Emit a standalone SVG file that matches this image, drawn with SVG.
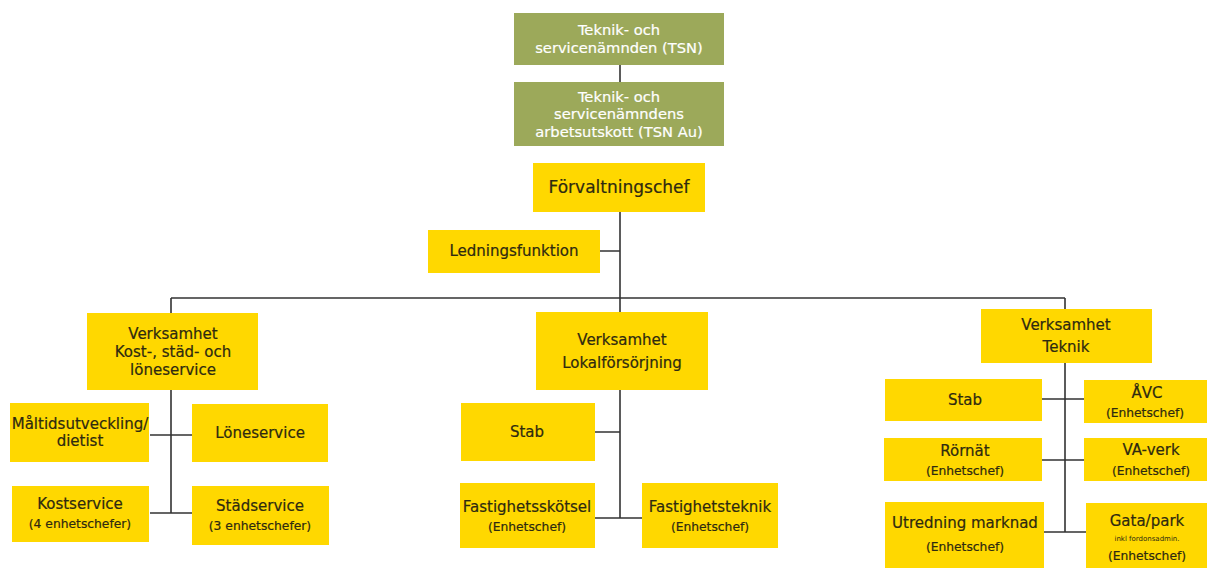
<svg xmlns="http://www.w3.org/2000/svg" width="1207" height="568" viewBox="0 0 1207 568">
<style>
.y{fill:#FFD800}
.g{fill:#9CA95A}
text{font-family:"DejaVu Sans",Verdana,sans-serif;text-anchor:middle;fill:#2e2a10;stroke:#2e2a10;stroke-width:0.2}
.t{font-size:15px}
.f{font-size:17px}
.w{font-size:14.7px;fill:#ffffff;stroke:#ffffff}
.s{font-size:12.3px}
.xs{font-size:7px;stroke:none}
.c{stroke:#333;stroke-width:1.6;fill:none}
</style>
<rect width="1207" height="568" fill="#fff"/>
<g id="connectors">
<path class="c" d="M620 65V82M620 212V298M600 251H620M171 298H1065M171 298V313M620 298V312M1065 298V309"/>
<path class="c" d="M171 390V513M150 435H192M150 513H192"/>
<path class="c" d="M620 390V518M595 432H620M595 518H642"/>
<path class="c" d="M1065 363V532M1042 399H1084M1042 460H1084M1044 532H1086"/>
</g>
<g id="tsn"><rect class="g" x="514" y="13" width="210" height="52"/><text class="w" x="619" y="35">Teknik- och</text><text class="w" x="619" y="53">servicenämnden (TSN)</text></g>
<g id="tsnau"><rect class="g" x="514" y="82" width="210" height="64"/><text class="w" x="619" y="102">Teknik- och</text><text class="w" x="619" y="119">servicenämndens</text><text class="w" x="619" y="137">arbetsutskott (TSN Au)</text></g>
<g id="forvaltningschef"><rect class="y" x="533" y="163" width="172" height="49"/><text class="f" x="619" y="193">Förvaltningschef</text></g>
<g id="ledningsfunktion"><rect class="y" x="428" y="230" width="172" height="43"/><text class="t" x="514" y="256">Ledningsfunktion</text></g>
<g id="kost"><rect class="y" x="87" y="313" width="171" height="77"/><text class="t" x="173" y="339">Verksamhet</text><text class="t" x="173" y="357">Kost-, städ- och</text><text class="t" x="173" y="375">löneservice</text></g>
<g id="maltid"><rect class="y" x="10" y="403" width="139" height="59"/><text class="t" x="80" y="429">Måltidsutveckling/</text><text class="t" x="80" y="446">dietist</text></g>
<g id="loneservice"><rect class="y" x="192" y="404" width="136" height="58"/><text class="t" x="260" y="438">Löneservice</text></g>
<g id="kostservice"><rect class="y" x="12" y="486" width="137" height="56"/><text class="t" x="80" y="509">Kostservice</text><text class="s" x="80" y="528">(4 enhetschefer)</text></g>
<g id="stadservice"><rect class="y" x="192" y="486" width="137" height="59"/><text class="t" x="260" y="511">Städservice</text><text class="s" x="260" y="530">(3 enhetschefer)</text></g>
<g id="lokal"><rect class="y" x="536" y="312" width="172" height="78"/><text class="t" x="622" y="345">Verksamhet</text><text class="t" x="622" y="368">Lokalförsörjning</text></g>
<g id="stab1"><rect class="y" x="461" y="403" width="134" height="58"/><text class="t" x="527" y="437">Stab</text></g>
<g id="fskotsel"><rect class="y" x="460" y="483" width="135" height="65"/><text class="t" x="527" y="512">Fastighetsskötsel</text><text class="s" x="527" y="531">(Enhetschef)</text></g>
<g id="fteknik"><rect class="y" x="642" y="483" width="136" height="65"/><text class="t" x="710" y="512">Fastighetsteknik</text><text class="s" x="710" y="531">(Enhetschef)</text></g>
<g id="teknik"><rect class="y" x="981" y="309" width="171" height="54"/><text class="t" x="1066" y="330">Verksamhet</text><text class="t" x="1066" y="352">Teknik</text></g>
<g id="stab2"><rect class="y" x="885" y="379" width="157" height="42"/><text class="t" x="965" y="405">Stab</text></g>
<g id="avc"><rect class="y" x="1084" y="380" width="123" height="43"/><text class="t" x="1147" y="398">ÅVC</text><text class="s" x="1145" y="417">(Enhetschef)</text></g>
<g id="rornat"><rect class="y" x="884" y="438" width="158" height="43"/><text class="t" x="965" y="456">Rörnät</text><text class="s" x="965" y="475">(Enhetschef)</text></g>
<g id="vaverk"><rect class="y" x="1084" y="438" width="123" height="43"/><text class="t" x="1151" y="455">VA-verk</text><text class="s" x="1151" y="475">(Enhetschef)</text></g>
<g id="utredning"><rect class="y" x="885" y="502" width="159" height="66"/><text class="t" x="965" y="528">Utredning marknad</text><text class="s" x="965" y="551">(Enhetschef)</text></g>
<g id="gatapark"><rect class="y" x="1086" y="503" width="121" height="65"/><text class="t" x="1147" y="526">Gata/park</text><text class="xs" x="1147" y="541">inkl fordonsadmin.</text><text class="s" x="1147" y="560">(Enhetschef)</text></g>
</svg>
